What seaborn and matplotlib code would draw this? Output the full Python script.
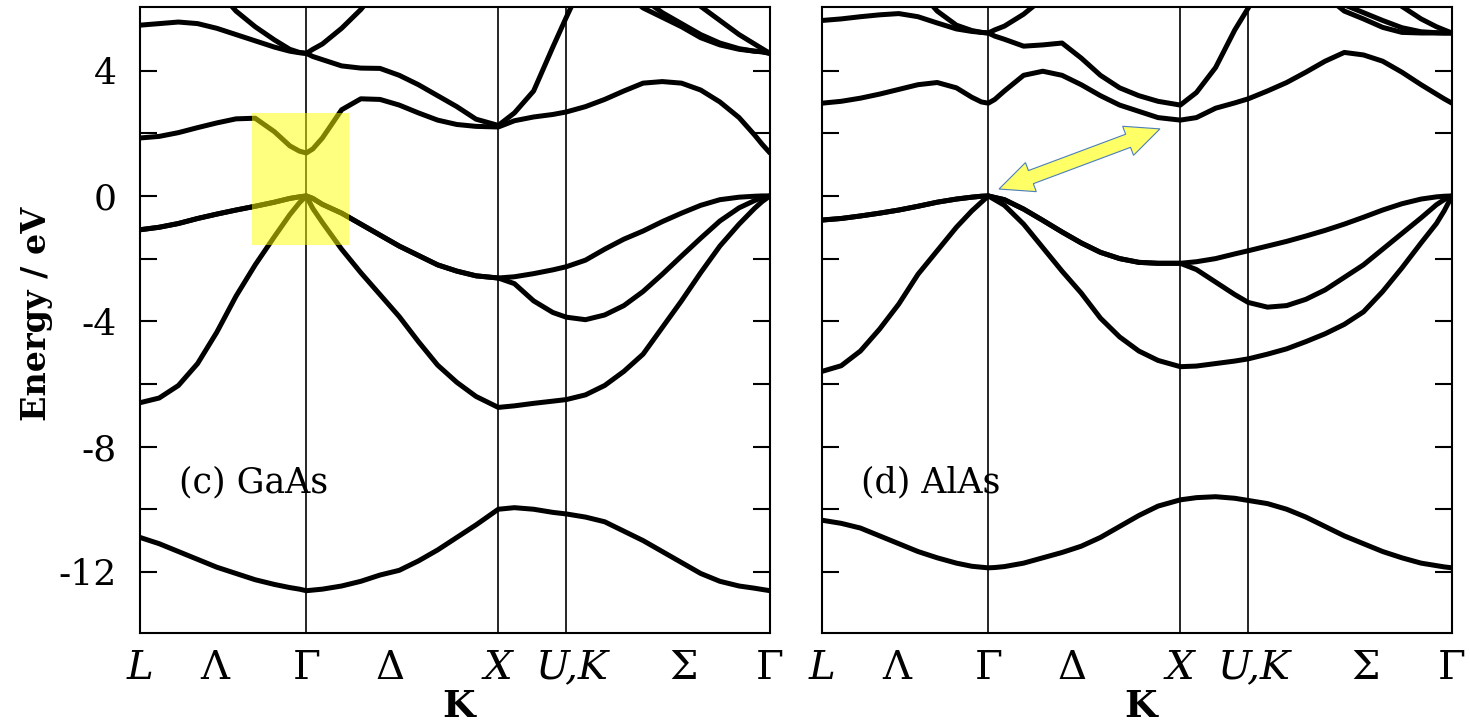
import matplotlib.pyplot as plt
import numpy as np
import pandas as pd
import seaborn as sns
from matplotlib.patches import Polygon, Rectangle

nan = np.nan

# positions along L - Gamma - X - U,K - Gamma (units of 2*pi/a)
k_path = [0.0, 0.1, 0.2, 0.3, 0.4, 0.5, 0.6, 0.7, 0.78, 0.83, 0.866,
          0.9, 0.95, 1.05, 1.15, 1.25, 1.35, 1.45, 1.55, 1.65, 1.75, 1.866,
          1.95, 2.05, 2.15, 2.22,
          2.32, 2.42, 2.52, 2.62, 2.72, 2.82, 2.92, 3.02, 3.12, 3.2, 3.24, 3.281]

sym_lines = [0.866, 1.866, 2.22]
tick_pos = [0.0, 0.39, 0.866, 1.30, 1.866, 2.25, 2.83, 3.281]
tick_labels = ['L', 'Λ', 'Γ', 'Δ', 'X', 'U,K', 'Σ', 'Γ']
italic_labels = ['L', 'X', 'U,K']
energy_ticks = [-12, -10, -8, -6, -4, -2, 0, 2, 4]
energy_labels = ['-12', '', '-8', '', '-4', '', '0', '', '4']

# GaAs bands (eV), one value per k_path point
gaas_b1 = [-10.9, -11.1, -11.35, -11.6, -11.85, -12.05, -12.25, -12.4, -12.5, -12.55, -12.6,
           -12.58, -12.55, -12.45, -12.3, -12.1, -11.95, -11.65, -11.3, -10.9, -10.5, -10.0,
           -9.95, -10.0, -10.1, -10.15,
           -10.25, -10.4, -10.7, -11.0, -11.35, -11.7, -12.05, -12.3, -12.45, -12.52, -12.56, -12.6]
gaas_b2 = [-6.6, -6.45, -6.05, -5.35, -4.35, -3.2, -2.2, -1.3, -0.6, -0.22, 0.0,
           -0.4, -0.85, -1.7, -2.45, -3.15, -3.85, -4.65, -5.4, -5.95, -6.4, -6.75,
           -6.7, -6.62, -6.55, -6.5,
           -6.35, -6.05, -5.6, -5.05, -4.2, -3.35, -2.45, -1.6, -0.9, -0.4, -0.18, 0.0]
gaas_b3 = [-1.08, -1.0, -0.88, -0.72, -0.58, -0.45, -0.33, -0.2, -0.08, -0.03, 0.0,
           -0.08, -0.27, -0.55, -0.9, -1.25, -1.6, -1.9, -2.2, -2.4, -2.55, -2.62,
           -2.8, -3.35, -3.72, -3.87,
           -3.95, -3.8, -3.5, -3.05, -2.5, -1.92, -1.35, -0.8, -0.38, -0.15, -0.05, 0.0]
gaas_b4 = [-1.08, -1.0, -0.88, -0.72, -0.58, -0.45, -0.33, -0.2, -0.08, -0.03, 0.0,
           -0.08, -0.27, -0.55, -0.9, -1.25, -1.6, -1.9, -2.2, -2.4, -2.55, -2.62,
           -2.58, -2.48, -2.36, -2.26,
           -2.05, -1.7, -1.38, -1.12, -0.82, -0.55, -0.3, -0.12, -0.04, -0.01, 0.0, 0.0]
gaas_b5 = [1.85, 1.9, 2.02, 2.18, 2.33, 2.46, 2.48, 2.05, 1.6, 1.43, 1.37,
           1.5, 1.85, 2.75, 3.1, 3.08, 2.9, 2.65, 2.42, 2.28, 2.22, 2.2,
           2.4, 2.52, 2.6, 2.68,
           2.85, 3.08, 3.35, 3.6, 3.65, 3.6, 3.38, 3.0, 2.5, 1.95, 1.65, 1.37]
gaas_b6 = [5.45, 5.5, 5.55, 5.5, 5.35, 5.15, 4.95, 4.75, 4.62, 4.57, 4.55,
           4.45, 4.35, 4.15, 4.08, 4.07, 3.85, 3.55, 3.2, 2.85, 2.45, 2.25,
           2.65, 3.35, 4.75, 5.7,
           7.0, nan, 6.5, 6.0, 5.7, 5.4, 5.05, 4.82, 4.68, 4.62, 4.6, 4.55]
gaas_b7 = [nan, nan, nan, nan, 6.6, 5.9, 5.4, 4.98, 4.68, 4.58, 4.55,
           4.68, 4.85, 5.35, 5.95, 6.7, nan, nan, nan, nan, nan, nan,
           nan, nan, nan, nan,
           nan, nan, nan, 6.3, 5.85, 5.5, 5.15, 4.88, 4.7, 4.62, 4.6, 4.55]
gaas_b8 = [nan, nan, nan, nan, nan, nan, nan, nan, nan, nan, nan,
           nan, nan, nan, nan, nan, nan, nan, nan, nan, nan, nan,
           nan, nan, nan, nan,
           nan, nan, nan, nan, nan, 6.6, 6.05, 5.6, 5.15, 4.85, 4.7, 4.55]

# AlAs bands (eV)
alas_b1 = [-10.35, -10.45, -10.6, -10.85, -11.1, -11.35, -11.55, -11.72, -11.82, -11.85, -11.87,
           -11.86, -11.83, -11.72, -11.55, -11.38, -11.18, -10.9, -10.55, -10.2, -9.9, -9.7,
           -9.63, -9.6, -9.65, -9.72,
           -9.82, -10.0, -10.25, -10.55, -10.85, -11.1, -11.35, -11.55, -11.72, -11.8, -11.84, -11.87]
alas_b2 = [-5.6, -5.42, -4.95, -4.25, -3.45, -2.5, -1.75, -1.0, -0.48, -0.2, 0.0,
           -0.12, -0.3, -0.9, -1.65, -2.4, -3.1, -3.9, -4.5, -4.95, -5.25, -5.45,
           -5.43, -5.35, -5.27, -5.2,
           -5.05, -4.88, -4.65, -4.4, -4.1, -3.7, -3.05, -2.3, -1.5, -0.88, -0.48, 0.0]
alas_b3 = [-0.77, -0.72, -0.64, -0.55, -0.45, -0.33, -0.2, -0.1, -0.04, -0.01, 0.0,
           -0.05, -0.12, -0.42, -0.78, -1.15, -1.5, -1.8, -2.0, -2.12, -2.15, -2.15,
           -2.35, -2.75, -3.15, -3.4,
           -3.55, -3.5, -3.3, -3.0, -2.6, -2.2, -1.7, -1.2, -0.7, -0.28, -0.12, 0.0]
alas_b4 = [-0.77, -0.72, -0.64, -0.55, -0.45, -0.33, -0.2, -0.1, -0.04, -0.01, 0.0,
           -0.05, -0.12, -0.42, -0.78, -1.15, -1.5, -1.8, -2.0, -2.12, -2.15, -2.15,
           -2.1, -2.0, -1.85, -1.75,
           -1.6, -1.45, -1.28, -1.1, -0.9, -0.68, -0.45, -0.25, -0.1, -0.03, -0.01, 0.0]
alas_b5 = [2.96, 3.02, 3.12, 3.25, 3.4, 3.55, 3.62, 3.45, 3.15, 3.0, 2.96,
           3.08, 3.35, 3.85, 3.98, 3.85, 3.55, 3.2, 2.9, 2.7, 2.5, 2.42,
           2.5, 2.8, 2.97, 3.1,
           3.35, 3.62, 3.95, 4.3, 4.58, 4.5, 4.3, 3.95, 3.55, 3.25, 3.1, 2.96]
alas_b6 = [5.6, 5.65, 5.72, 5.78, 5.82, 5.72, 5.52, 5.33, 5.25, 5.22, 5.2,
           5.1, 5.0, 4.78, 4.82, 4.88, 4.4, 3.85, 3.45, 3.2, 3.02, 2.9,
           3.3, 4.1, 5.3, 6.0,
           7.0, nan, nan, 6.4, 5.9, 5.65, 5.38, 5.22, 5.2, 5.2, 5.2, 5.2]
alas_b7 = [nan, nan, nan, nan, nan, 6.6, 5.9, 5.45, 5.28, 5.22, 5.2,
           5.3, 5.42, 5.8, 6.3, nan, nan, nan, nan, nan, nan, nan,
           nan, nan, nan, nan,
           nan, nan, nan, nan, 6.1, 5.85, 5.6, 5.37, 5.24, 5.21, 5.2, 5.2]
alas_b8 = [nan, nan, nan, nan, nan, nan, nan, nan, nan, nan, nan,
           nan, nan, nan, nan, nan, nan, nan, nan, nan, nan, nan,
           nan, nan, nan, nan,
           nan, nan, nan, nan, nan, nan, 6.5, 6.05, 5.65, 5.4, 5.3, 5.2]

gaas_bands = [gaas_b1, gaas_b2, gaas_b3, gaas_b4, gaas_b5, gaas_b6, gaas_b7, gaas_b8]
alas_bands = [alas_b1, alas_b2, alas_b3, alas_b4, alas_b5, alas_b6, alas_b7, alas_b8]


def band_frame(bands):
    rows = []
    for i, energies in enumerate(bands):
        for k, e in zip(k_path, energies):
            if not np.isnan(e):
                rows.append({'band': i, 'k': k, 'E': e})
    return pd.DataFrame(rows)


def draw_panel(ax, bands, name, first):
    df = band_frame(bands)
    sns.lineplot(data=df, x='k', y='E', units='band', estimator=None, sort=False,
                 color='black', linewidth=3.6, solid_joinstyle='round',
                 legend=False, ax=ax)
    for k in sym_lines:
        ax.axvline(k, color='black', linewidth=1.2, zorder=1)
    ax.set_xlim(0, 3.281)
    ax.set_ylim(-13.95, 6.03)

    ax.set_xticks(tick_pos)
    ax.set_xticklabels(tick_labels)
    for lbl in ax.get_xticklabels():
        if lbl.get_text() in italic_labels:
            lbl.set_style('italic')
    ax.tick_params(axis='x', length=0, pad=12, labelsize=29)

    ax.set_yticks(energy_ticks)
    ax.set_yticklabels(energy_labels if first else [])
    ax.tick_params(axis='y', direction='in', length=12, width=1.5,
                   left=True, right=True, labelsize=26, pad=17)

    ax.set_xlabel('K', fontsize=27, fontweight='bold', va='center', color='black')
    ax.xaxis.set_label_coords(0.505, -0.117)
    if first:
        ax.set_ylabel('Energy / eV', fontsize=24, fontweight='bold', va='center',
                      color='black')
        ax.yaxis.set_label_coords(-0.165, 0.51)
    else:
        ax.set_ylabel('')

    ax.text(0.062, 0.241, name, transform=ax.transAxes, fontsize=25,
            ha='left', va='center')
    for side in ax.spines.values():
        side.set_color('black')
        side.set_linewidth(1.5)


def double_arrow(ax, start, end, shaft=7, head_w=15.5, head_l=34):
    # fat two-headed arrow, built in pixel space so the head keeps its shape
    p1, p2 = ax.transData.transform([start, end])
    u = (p2 - p1) / np.hypot(*(p2 - p1))
    n = np.array([-u[1], u[0]])
    pts = [p1,
           p1 + u * head_l + n * head_w, p1 + u * head_l + n * shaft,
           p2 - u * head_l + n * shaft, p2 - u * head_l + n * head_w,
           p2,
           p2 - u * head_l - n * head_w, p2 - u * head_l - n * shaft,
           p1 + u * head_l - n * shaft, p1 + u * head_l - n * head_w]
    pts = ax.transData.inverted().transform(pts)
    ax.add_patch(Polygon(pts, closed=True, facecolor='#ffff66',
                         edgecolor='#4a7ebb', linewidth=0.8, zorder=6))


sns.set_theme(style='white', rc={'axes.edgecolor': 'black', 'axes.labelcolor': 'black',
                                 'xtick.color': 'black', 'ytick.color': 'black',
                                 'text.color': 'black'})
plt.rcParams['font.family'] = ['DejaVu Serif']

fig = plt.figure(figsize=(14.7, 7.23), dpi=100)
ax_gaas = fig.add_axes([140 / 1470, 1 - 633 / 723, 630 / 1470, 626 / 723])
ax_alas = fig.add_axes([822 / 1470, 1 - 633 / 723, 630 / 1470, 626 / 723])

draw_panel(ax_gaas, gaas_bands, '(c) GaAs', True)
draw_panel(ax_alas, alas_bands, '(d) AlAs', False)

# direct gap highlight (GaAs) and indirect gap arrow (AlAs)
ax_gaas.add_patch(Rectangle((0.583, -1.56), 0.506, 4.21, facecolor='yellow',
                            edgecolor='none', alpha=0.5, zorder=5))
double_arrow(ax_alas, (0.922, 0.22), (1.76, 2.14))

fig.savefig('out.png', dpi=100)
